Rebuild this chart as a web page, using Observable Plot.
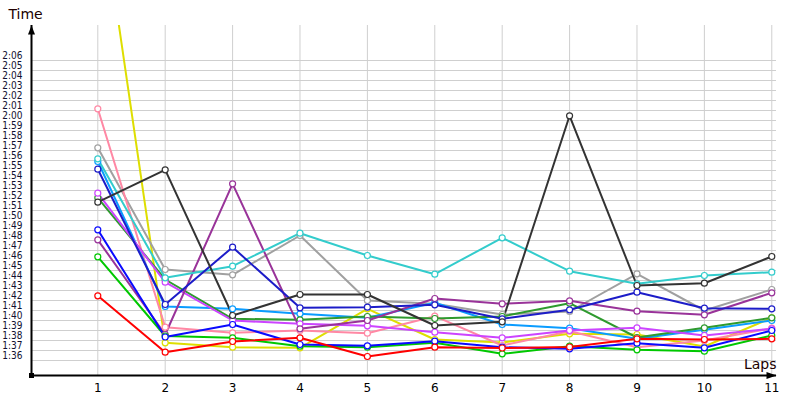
<!DOCTYPE html>
<html>
<head>
<meta charset="utf-8">
<script src="https://cdn.jsdelivr.net/npm/d3@7"></script>
<script src="https://cdn.jsdelivr.net/npm/@observablehq/plot@0.6"></script>
<style>
  html, body { margin: 0; padding: 0; background: #fff; }
  #chart { width: 800px; height: 400px; }
</style>
</head>
<body>
<div id="chart"></div>
<script>
// Laps (x categories)
const laps = [1, 2, 3, 4, 5, 6, 7, 8, 9, 10, 11];

// Lap times in seconds, one array per driver
const driverRed       = [101.97, 96.33, 97.40, 97.77, 95.90, 96.83, 96.75, 96.85, 97.67, 97.60, 97.67];
const driverGreen     = [105.87, 97.95, 97.77, 96.93, 96.83, 97.27, 96.17, 96.93, 96.57, 96.43, 98.00];
const driverBlue      = [108.57, 97.85, 99.10, 97.10, 96.97, 97.43, 96.83, 96.67, 97.23, 96.77, 98.50];
const driverPurple    = [107.57, 98.10, 113.17, 98.67, 99.50, 101.70, 101.17, 101.47, 100.43, 100.07, 102.27];
const driverDarkGreen = [111.77, 103.60, 99.67, 99.57, 99.90, 99.70, 99.90, 101.23, 97.80, 98.77, 99.77];
const driverPink      = [120.67, 98.83, 98.27, 98.50, 98.23, 99.93, 97.00, 98.43, 96.83, 97.50, 98.73];
const driverGray      = [116.77, 104.60, 104.07, 108.00, 101.50, 101.17, 100.10, 100.40, 104.17, 100.50, 102.60];
const driverCyan      = [115.67, 103.77, 104.93, 108.23, 106.00, 104.13, 107.77, 104.43, 103.17, 104.00, 104.33];
const driverLightBlue = [115.40, 100.90, 100.67, 100.17, 99.77, 101.27, 99.10, 98.73, 97.67, 98.57, 99.50];
const driverViolet    = [112.23, 103.33, 99.50, 99.17, 98.97, 98.33, 97.77, 98.50, 98.77, 98.00, 98.67];
const driverDarkGray  = [111.33, 114.57, 100.00, 102.10, 102.10, 99.00, 99.37, 119.97, 103.00, 103.23, 105.90];
const driverNavy      = [114.63, 101.10, 106.83, 100.77, 100.83, 101.07, 99.67, 100.57, 102.33, 100.73, 100.67];
const driverYellow    = [143.50, 97.27, 96.83, 96.77, 100.67, 97.60, 97.30, 98.17, 98.10, 96.90, 99.77];

const seriesNames  = ["P01", "P02", "P03", "P04", "P05", "P06", "P07", "P08", "P09", "P10", "P11", "P12", "P13"];
const seriesValues = [driverYellow, driverGray, driverPink, driverLightBlue, driverDarkGreen, driverViolet, driverPurple, driverCyan, driverNavy, driverGreen, driverBlue, driverRed, driverDarkGray];
const seriesColors = ["#dede00", "#a0a0a0", "#ff88a4", "#0a9cff", "#2e9a2e", "#cc44ff", "#993399", "#33cccc", "#1c1cc8", "#00c800", "#0a0aff", "#ff0000", "#333333"];

// Y tick labels (seconds) 1:36 .. 2:06, grid lines half a second below each label
const yTicks = d3.range(96, 127, 1);
const yGrid  = d3.range(95.5, 126, 1);

const xMin = 0.0163, xMax = 11.07;
const yMin = 94, yMax = 129;

const rows = [];
seriesNames.forEach((name, i) => {
  seriesValues[i].forEach((v, j) => rows.push({name, lap: laps[j], time: v}));
});

const fmt = v => `${Math.floor(v / 60)}:${String(Math.round(v % 60)).padStart(2, "0")}`;

const arrowUp = {draw(ctx) { ctx.moveTo(0, 0); ctx.lineTo(-3.5, 9); ctx.lineTo(3.5, 9); ctx.closePath(); }};
const arrowRight = {draw(ctx) { ctx.moveTo(0, 0); ctx.lineTo(-10, -3.5); ctx.lineTo(-10, 3.5); ctx.closePath(); }};
const squareSym = {draw(ctx) { ctx.rect(-2.5, -2.5, 5, 5); }};

const chart = Plot.plot({
  width: 800,
  height: 400,
  marginLeft: 31,
  marginRight: 24,
  marginTop: 25,
  marginBottom: 25,
  style: {fontFamily: "DejaVu Sans", background: "#fff", color: "#000"},
  x: {domain: [xMin, xMax]},
  y: {domain: [yMin, yMax]},
  color: {type: "ordinal", domain: seriesNames, range: seriesColors},
  marks: [
    Plot.ruleY(yGrid, {stroke: "#cfcfcf", strokeWidth: 1}),
    Plot.ruleX(laps, {stroke: "#cfcfcf", strokeWidth: 1}),
    Plot.axisY(yTicks, {tickSize: 0, tickPadding: 9, tickFormat: fmt, fontSize: 10, fontFamily: "DejaVu Sans Condensed", label: null, fill: "#101030"}),
    Plot.axisX(laps, {tickSize: 0, tickPadding: 8, fontSize: 12, label: null, fill: "#000"}),
    Plot.line(rows, {x: "lap", y: "time", z: "name", stroke: "name", strokeWidth: 2, clip: true}),
    Plot.dot(rows, {x: "lap", y: "time", stroke: "name", fill: "white", r: 3, strokeWidth: 1.2, clip: true}),
    Plot.ruleX([xMin], {stroke: "#000", strokeWidth: 2}),
    Plot.ruleY([yMin], {stroke: "#000", strokeWidth: 2}),
    Plot.dot([0], {x: xMin, y: yMax, symbol: arrowUp, fill: "#000", stroke: null}),
    Plot.dot([0], {x: xMax, y: yMin, symbol: arrowRight, fill: "#000", stroke: null}),
    Plot.dot([0], {x: xMin, y: yMin, symbol: squareSym, fill: "#000", stroke: null}),
    Plot.text(["Time"], {x: xMin, y: yMax, text: d => d, dx: -6, dy: -11, fontSize: 14, textAnchor: "middle", fill: "#200000"}),
    Plot.text(["Laps"], {x: xMax, y: yMin, text: d => d, dx: 0, dy: -11, fontSize: 14, textAnchor: "end", fill: "#200000"})
  ]
});
document.getElementById("chart").appendChild(chart);
</script>
</body>
</html>
